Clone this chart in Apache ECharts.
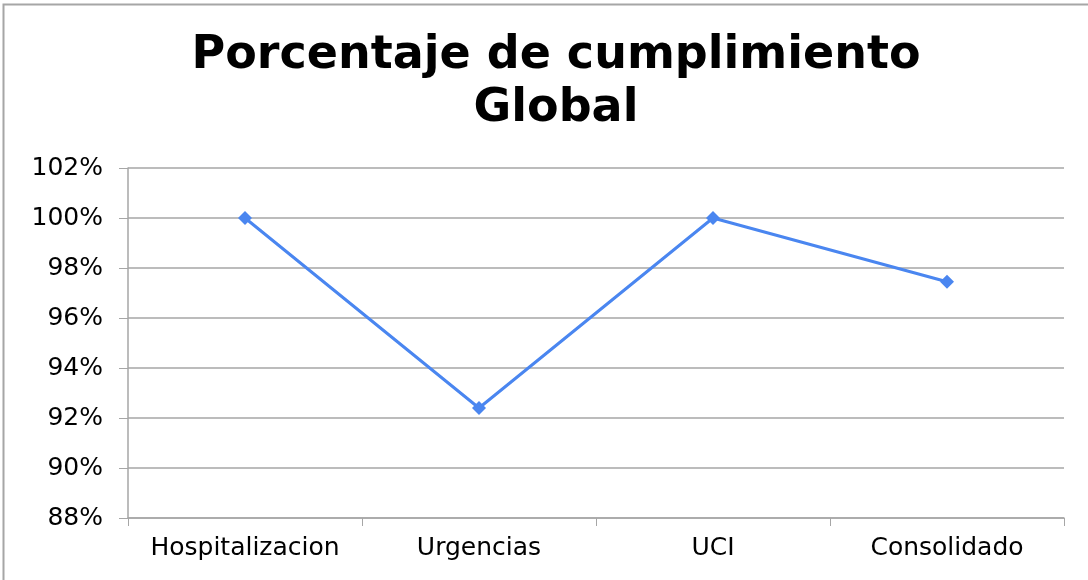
<!DOCTYPE html>
<html>
<head>
<meta charset="utf-8">
<script src="https://cdn.jsdelivr.net/npm/echarts@6/dist/echarts.min.js"></script>
<style>
  html, body { margin: 0; padding: 0; background: #fff; }
  #main { width: 1088px; height: 580px; }
</style>
</head>
<body>
<div id="main"></div>
<script>
// categories and values (percent)
const categories = ['Hospitalizacion', 'Urgencias', 'UCI', 'Consolidado'];
const cumplimiento = [100, 92.4, 100, 97.45];

let myChart = echarts.init(document.getElementById('main'));

let option = {
  backgroundColor: '#fff',
  animation: false,
  graphic: [{
    type: 'rect',
    shape: { x: 3.5, y: 4.5, width: 1090, height: 590 },
    style: { fill: 'none', stroke: '#a6a6a6', lineWidth: 2 }
  }],
  title: {
    text: 'Porcentaje de cumplimiento\nGlobal',
    left: 551,
    textAlign: 'center',
    top: 25,
    textStyle: {
      fontFamily: 'DejaVu Sans',
      fontSize: 46,
      fontWeight: 'bold',
      color: '#000',
      lineHeight: 53
    }
  },
  grid: {
    left: 128,
    right: 24,
    top: 168,
    bottom: 62
  },
  xAxis: {
    type: 'category',
    data: categories,
    boundaryGap: true,
    axisLine: { lineStyle: { color: '#a6a6a6', width: 1.5 } },
    axisTick: { show: true, length: 8, interval: 0, lineStyle: { color: '#a6a6a6' } },
    axisLabel: {
      interval: 0,
      fontFamily: 'DejaVu Sans',
      fontSize: 25,
      color: '#000',
      margin: 18
    }
  },
  yAxis: {
    type: 'value',
    min: 88,
    max: 102,
    interval: 2,
    axisLine: { show: true, lineStyle: { color: '#a6a6a6', width: 1.5 } },
    axisTick: { show: true, inside: false, length: 9, lineStyle: { color: '#a6a6a6' } },
    splitLine: { lineStyle: { color: '#a6a6a6', width: 1.5 } },
    axisLabel: {
      fontFamily: 'DejaVu Sans',
      fontSize: 25,
      color: '#000',
      margin: 25,
      formatter: v => v + '%'
    }
  },
  series: [{
    type: 'line',
    data: cumplimiento,
    symbol: 'diamond',
    symbolSize: 14,
    lineStyle: { color: '#4a86f0', width: 3 },
    itemStyle: { color: '#4a86f0' }
  }]
};

myChart.setOption(option);
</script>
</body>
</html>
